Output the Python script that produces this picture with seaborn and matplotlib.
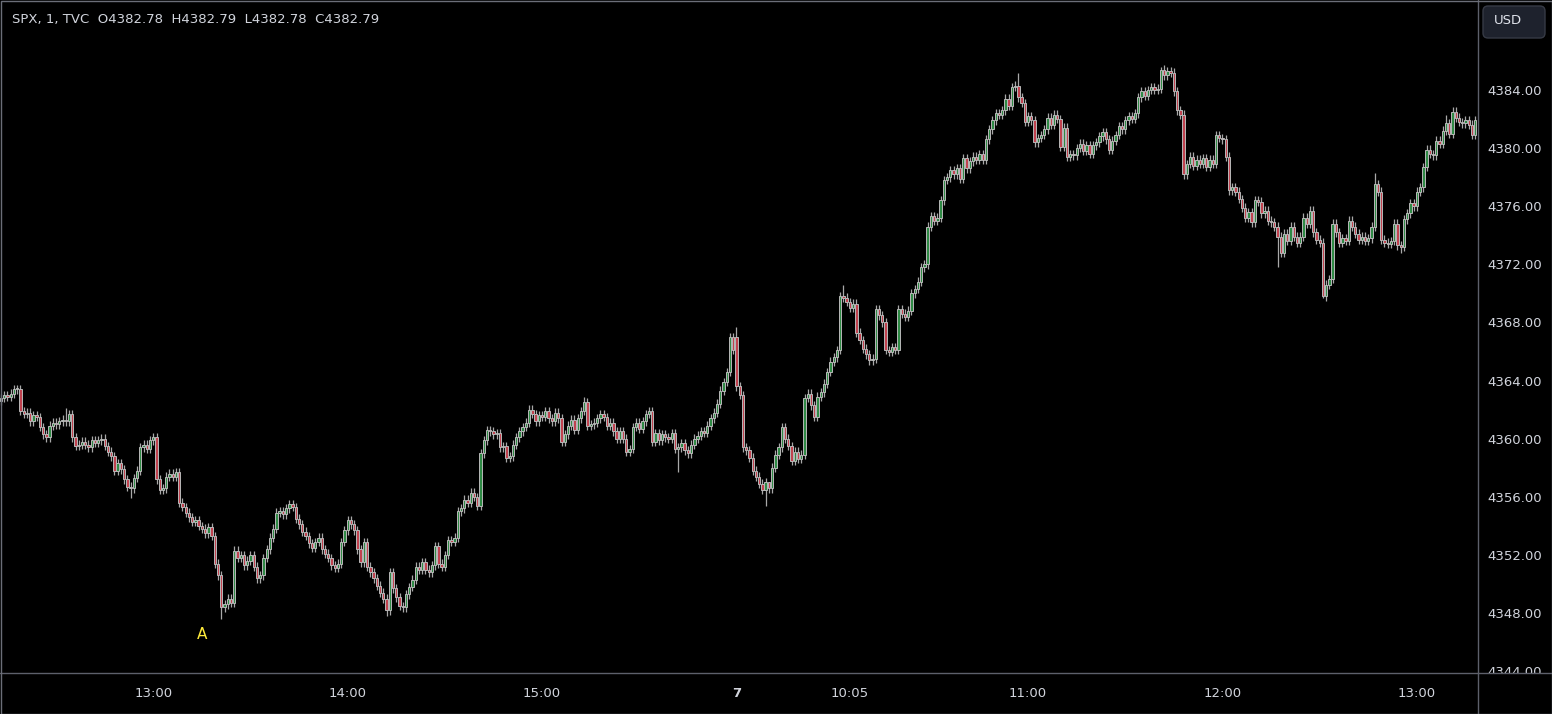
import pandas as pd
import matplotlib.pyplot as plt
import seaborn as sns
from matplotlib.patches import FancyBboxPatch, Rectangle
from matplotlib.lines import Line2D

# ---- data: SPX 1-minute closes ----
day1_close = [
    4362.8, 4363.0, 4362.9, 4363.1, 4363.4, 4363.4,
    4361.9, 4361.7, 4361.8, 4361.2, 4361.6, 4361.5, 4360.8,
    4360.3, 4360.1, 4360.9, 4361.1, 4361.0, 4361.2, 4361.3, 4361.2,
    4361.7, 4360.1, 4359.5, 4359.6,
    4359.8, 4359.6, 4359.4, 4359.9, 4359.7, 4359.9, 4360.0,
    4359.5, 4359.1, 4358.8, 4357.8, 4358.3,
    4357.9, 4357.2, 4356.7, 4356.6, 4357.3,
    4357.8, 4359.4, 4359.6, 4359.3, 4359.9, 4360.1,
    4357.2, 4356.5, 4356.6, 4357.4, 4357.6, 4357.4, 4357.7,
    4355.6, 4355.3, 4354.9, 4354.6, 4354.3, 4354.4, 4354.0,
    4353.8, 4353.5, 4353.9, 4353.3,
    4351.4, 4350.6, 4348.4, 4348.6, 4349.0, 4348.7,
    4352.3, 4351.8, 4352.0, 4351.3, 4351.6, 4352.0,
    4351.2, 4350.4, 4350.6,
    4351.8, 4352.4, 4353.2, 4353.8, 4354.9,
    4355.0, 4354.8, 4355.2, 4355.5, 4355.3,
    4354.5, 4354.1, 4353.6, 4353.3, 4352.8,
    4352.5, 4352.9, 4353.2, 4352.4, 4352.1, 4351.8,
    4351.3, 4351.1, 4351.4,
    4352.9, 4353.7, 4354.4, 4354.1,
    4353.7, 4352.4, 4351.5, 4352.9, 4351.2,
    4350.8, 4350.4, 4349.9, 4349.4,
    4349.0, 4348.2, 4350.8, 4349.7, 4349.1, 4348.5, 4348.4,
    4349.3, 4349.8, 4350.3, 4351.2, 4351.0,
    4351.5, 4351.0, 4350.8, 4351.3, 4352.6, 4351.4,
    4351.2, 4352.0, 4353.0, 4352.9, 4353.2,
    4355.0, 4355.2, 4355.8, 4355.6, 4356.3, 4356.0, 4355.4,
    4359.0, 4359.9, 4360.6, 4360.5, 4360.3, 4360.4, 4359.4, 4359.5, 4358.7, 4358.8,
    4359.6, 4360.1, 4360.5, 4360.8,
    4361.1, 4362.0, 4361.7,
    4361.2, 4361.6, 4361.5, 4361.9, 4361.4, 4361.2, 4361.8, 4361.4,
    4359.8,
    4360.3, 4360.9, 4361.3, 4360.6, 4361.4, 4361.9,
    4362.5, 4360.9,
    4361.0, 4361.1, 4361.4, 4361.7, 4361.5, 4360.9, 4361.1,
    4360.5, 4360.0, 4360.5, 4360.0, 4359.1,
    4359.3, 4360.8, 4361.1, 4360.7, 4361.2,
    4361.7, 4361.9, 4359.8,
    4360.4, 4359.9, 4360.3, 4360.1, 4360.0, 4360.4, 4359.3, 4359.4,
    4359.7, 4359.2, 4359.0, 4359.6, 4360.0,
    4360.2, 4360.5, 4360.4, 4360.9, 4361.4,
    4361.8, 4362.4, 4363.3, 4363.9, 4364.6, 4367.0, 4366.1,
]
day2_close = [
    4363.6, 4363.0, 4359.4,
    4359.2, 4358.7, 4357.8,
    4357.4, 4356.9, 4356.5, 4357.0, 4356.6,
    4358.0, 4358.9, 4359.4, 4360.8,
    4360.0, 4359.5, 4358.5, 4359.1, 4358.6, 4358.9,
    4362.8,
    4363.1, 4362.3, 4361.5, 4362.9, 4363.2,
    4363.8, 4364.6, 4365.3, 4365.6, 4366.1,
    4369.8,
    4369.7, 4369.4, 4369.0, 4369.3,
    4367.3,
    4366.8, 4366.2, 4365.8, 4365.4, 4365.5,
    4368.9,
    4368.5, 4368.0, 4366.1,
    4366.0, 4366.3, 4366.1,
    4368.9,
    4368.6, 4368.4, 4368.8,
    4370.0, 4370.3, 4370.8,
    4371.8, 4372.0, 4374.6,
    4375.3, 4375.0, 4375.2,
    4376.4, 4377.8,
    4378.0, 4378.5, 4378.2, 4378.6, 4377.9,
    4379.3, 4378.6, 4379.1, 4379.4, 4379.2, 4379.6, 4379.2,
    4380.6, 4381.3, 4381.9,
    4382.4, 4382.3, 4382.6,
    4383.4, 4382.9,
    4384.2, 4384.3,
    4383.5, 4383.1, 4381.8,
    4382.2, 4381.9,
    4380.4, 4380.7, 4380.9,
    4381.3, 4382.1, 4381.6, 4382.3, 4382.0,
    4380.1, 4381.4, 4379.4,
    4379.6, 4379.5, 4380.0, 4380.3, 4379.8, 4380.2,
    4379.6, 4380.2, 4380.4,
    4380.8, 4381.1, 4380.6, 4379.9, 4380.5, 4380.9,
    4381.5, 4381.3, 4381.9,
    4382.2, 4382.0, 4382.4,
    4383.5, 4383.9, 4383.6,
    4384.0, 4384.2, 4384.0, 4384.1,
    4385.4, 4385.0, 4385.3, 4385.2,
    4383.9, 4382.6, 4382.3,
    4378.2,
    4378.9, 4379.4, 4378.8, 4379.2, 4378.9, 4379.3, 4378.7, 4379.2, 4378.9,
    4380.9, 4380.7, 4380.6,
    4379.4, 4377.1,
    4377.3, 4377.0, 4376.5, 4375.9, 4375.2, 4375.6,
    4374.9, 4376.4, 4376.3,
    4375.5, 4375.7, 4375.0, 4374.9, 4374.6,
    4373.9,
    4372.8, 4374.1, 4373.6, 4374.6, 4373.9,
    4373.5, 4373.9, 4375.2, 4374.8, 4375.7,
    4374.2, 4373.7, 4373.5,
    4369.8,
    4370.6, 4371.0,
    4374.8,
    4374.2, 4373.5, 4373.8, 4373.6,
    4375.0, 4374.6, 4374.1,
    4373.7, 4373.9, 4373.6, 4373.8, 4374.6,
    4377.5, 4377.0, 4373.7,
    4373.5, 4373.4, 4373.6, 4374.8, 4373.3,
    4373.2, 4375.1,
    4375.5, 4376.2, 4376.0,
    4377.0, 4377.3, 4378.7,
    4379.9, 4379.6, 4379.5,
    4380.5, 4380.3, 4381.2,
    4381.7, 4381.0, 4382.5,
    4382.1, 4381.8, 4381.7,
    4381.9, 4381.6, 4380.9, 4381.9,
]
day1_first_open = 4362.6
day2_first_open = 4367.0

# long wicks that stand out on the chart (candle index -> price)
spike_high_idx = [20, 180, 227, 237, 260, 314, 358, 424, 446]
spike_high = [4362.1, 4362.9, 4367.7, 4356.9, 4370.6, 4385.2, 4385.6, 4378.3, 4382.3]
spike_low_idx = [40, 68, 119, 209, 236, 394, 408, 432]
spike_low = [4355.9, 4347.6, 4347.8, 4357.7, 4355.4, 4371.8, 4369.7, 4372.8]

tick_times = ["2023-06-06 13:00", "2023-06-06 14:00", "2023-06-06 15:00",
              "2023-06-07 09:30", "2023-06-07 10:05", "2023-06-07 11:00",
              "2023-06-07 12:00", "2023-06-07 13:00"]
tick_labels = ["13:00", "14:00", "15:00", "7", "10:05", "11:00", "12:00", "13:00"]
price_ticks = [4344, 4348, 4352, 4356, 4360, 4364, 4368, 4372, 4376, 4380, 4384]

# ---- build OHLC frame ----
t1 = pd.date_range(end="2023-06-06 15:59", periods=len(day1_close), freq="min")
t2 = pd.date_range(start="2023-06-07 09:30", periods=len(day2_close), freq="min")
times = t1.append(t2)
close = day1_close + day2_close
opens = [day1_first_open] + close[:-1]
opens[len(day1_close)] = day2_first_open

df = pd.DataFrame({"time": times, "open": opens, "close": close})
df["x"] = range(len(df))
df["high"] = df[["open", "close"]].max(axis=1) + 0.3
df["low"] = df[["open", "close"]].min(axis=1) - 0.3
df.loc[spike_high_idx, "high"] = spike_high
df.loc[spike_low_idx, "low"] = spike_low
df["up"] = df["close"] >= df["open"]

sns.set_theme(style="dark", rc={"axes.facecolor": "black", "figure.facecolor": "black",
                                "axes.grid": False})
plt.rcParams["font.family"] = ["DejaVu Sans"]

W, H = 1552, 714
fig = plt.figure(figsize=(W / 100, H / 100), dpi=100)
ax = fig.add_axes([0, 41 / H, 1478 / W, 673 / H])
ax.set_facecolor("black")

# wicks
ax.vlines(df["x"], df["low"], df["high"], color="#a8a8a8", linewidth=0.9, zorder=2)
# bodies
body = (df["close"] - df["open"]).abs().clip(lower=0.08)
bottom = df[["open", "close"]].min(axis=1)
fills = df["up"].map({True: "#2f8a45", False: "#c0424f"})
ax.bar(df["x"], body, bottom=bottom, width=0.72, color=fills,
       edgecolor="#b8b8b8", linewidth=0.7, zorder=3)

ax.set_xlim(-1 / 3.24, 1477 / 3.24)
ax.set_ylim(4343.88, 4390.19)

# axes / ticks
tick_pos = [times.get_loc(pd.Timestamp(t)) for t in tick_times]
ax.set_xticks(tick_pos)
ax.set_xticklabels(tick_labels)
ax.yaxis.tick_right()
ax.set_yticks(price_ticks)
ax.set_yticklabels([f"{v:.2f}" for v in price_ticks])
ax.tick_params(axis="y", length=0, pad=7, labelsize=9.5, labelcolor="#d1d4dc")
ax.tick_params(axis="x", length=0, pad=10, labelsize=9.5, labelcolor="#d1d4dc")
for lab in ax.get_xticklabels():
    if lab.get_text() == "7":
        lab.set_fontweight("bold")
for s in ax.spines.values():
    s.set_visible(False)

ax.text(62, 4346.5, "A", color="#ffeb3b", ha="center", va="center", fontsize=11)

# cover lower half of the bottom price label, like the price scale clip
fig.add_artist(Rectangle((1479, 1), 72, 40, transform=None, facecolor="black",
                         edgecolor="none", zorder=5))
# separators and frame
fig.add_artist(Line2D([0, 1], [41 / H, 41 / H], color="#5d606b", linewidth=1, zorder=6))
fig.add_artist(Line2D([1478 / W, 1478 / W], [0, 1], color="#5d606b", linewidth=1, zorder=6))
fig.add_artist(Rectangle((0.5, 0.5), W - 1, H - 1, transform=None, facecolor="none",
                         edgecolor="#6b6e78", linewidth=1, zorder=7))

# header and currency button
fig.text(12 / W, 1 - 20 / H, "SPX, 1, TVC  O4382.78  H4382.79  L4382.78  C4382.79",
         color="#d1d4dc", fontsize=9.5, va="center", ha="left")
fig.add_artist(FancyBboxPatch((1483, H - 38), 62, 32, transform=None,
                              boxstyle="round,pad=0,rounding_size=5",
                              facecolor="#1e222d", edgecolor="#363a45", zorder=8))
fig.text(1494 / W, 1 - 21 / H, "USD", color="#e0e3eb", fontsize=9.5,
         va="center", ha="left", zorder=9)

plt.savefig("out.png", dpi=100, facecolor="black")
